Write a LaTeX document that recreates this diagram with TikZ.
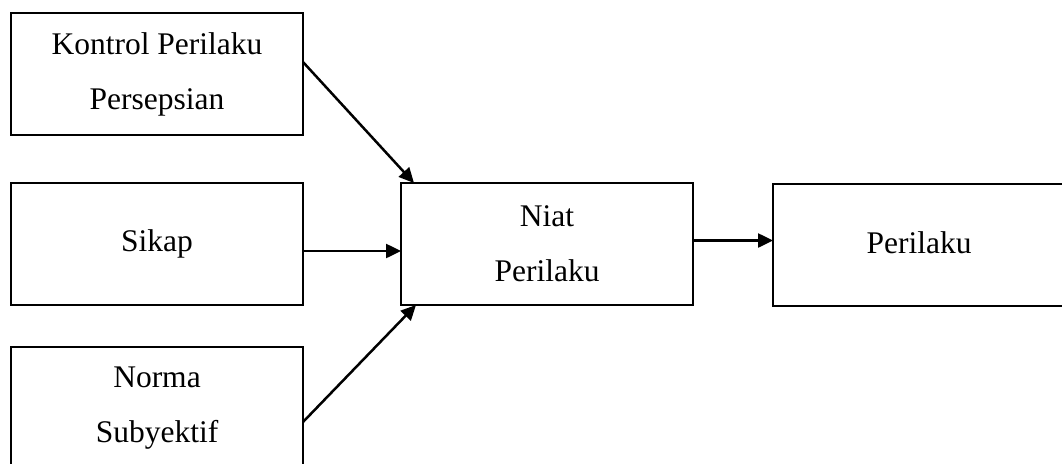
\documentclass[tikz,border=0pt]{standalone}
\usepackage{fontspec}
\setmainfont{Liberation Serif}
\usetikzlibrary{arrows.meta}
\begin{document}
\begin{tikzpicture}[x=1pt,y=-1pt,
  box/.style={draw, line width=2.2pt, minimum width=292pt, minimum height=122pt,
    inner sep=0pt, outer sep=0pt, align=center,
    font=\fontsize{31.5}{55}\selectfont},
  arr/.style={line width=2.5pt, -{Triangle[length=15pt,width=14pt]}}]
\useasboundingbox (0,0) rectangle (1062,463);
\clip (0,0) rectangle (1062,463);
\node[box] (k) at (157,74) {Kontrol Perilaku\\Persepsian};
\node[box] (s) at (157,244) {\raisebox{5pt}{Sikap}};
\node[box] (no) at (157,408) {Norma\\Subyektif};
\node[box] (n) at (547,244) {Niat\\Perilaku};
\node[box] (p) at (919,245) {\raisebox{5pt}{Perilaku}};
\coordinate (s1) at ([yshift=-7pt]s.east);
\coordinate (n1) at ([yshift=3.5pt]n.east);
\draw[arr] ([yshift=12pt]k.east) -- ([xshift=13pt]n.north west);
\draw[arr] (s1) -- (n.west |- s1);
\draw[arr] ([yshift=-14pt]no.east) -- ([xshift=15pt]n.south west);
\draw[arr] (n1) -- (p.west |- n1);
\end{tikzpicture}
\end{document}
